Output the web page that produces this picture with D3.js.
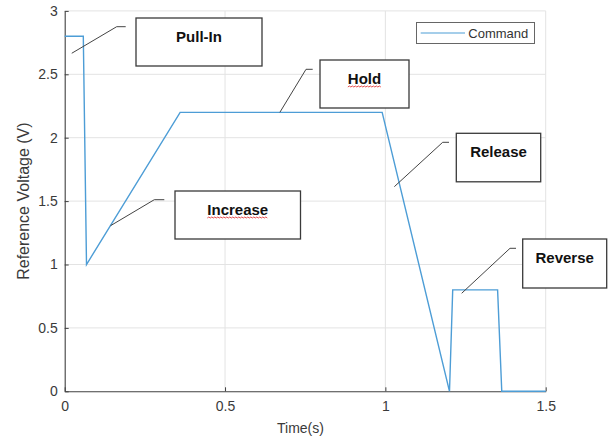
<!DOCTYPE html>
<html>
<head>
<meta charset="utf-8">
<script src="https://cdn.jsdelivr.net/npm/d3@7"></script>
<style>
  html, body { margin: 0; padding: 0; background: #fff; }
  svg { display: block; font-family: "Liberation Sans", Arial, Helvetica, sans-serif; }
</style>
</head>
<body>
<svg id="chart" width="613" height="441"></svg>
<script>
// Reference voltage command profile
const timeS    = [0, 0.058, 0.068, 0.36, 0.99, 1.2, 1.21, 1.35, 1.363, 1.5];
const voltageV = [2.8, 2.8, 1.0, 2.2, 2.2, 0, 0.8, 0.8, 0, 0];

const xTicks = [0, 0.5, 1, 1.5];
const xTickLabels = ["0", "0.5", "1", "1.5"];
const yTicks = [0, 0.5, 1, 1.5, 2, 2.5, 3];
const yTickLabels = ["0", "0.5", "1", "1.5", "2", "2.5", "3"];

const seriesName = "Command";

// Phase labels and the point (time, voltage) each callout line points to
const phaseLabels = ["Pull-In", "Hold", "Release", "Increase", "Reverse"];
const phaseTipTime = [0.022, 0.671, 1.028, 0.143, 1.238];
const phaseTipVolt = [2.666, 2.2, 1.614, 1.306, 0.773];

// Callout geometry (pixels): elbow point, end of the short leader, box rectangle
const calloutLayout = [
  { elbow: [116.7, 26.7], end: 125.7, box: [136, 18, 126, 48], squiggle: false },
  { elbow: [306, 69.3],   end: 312.7, box: [320, 60, 89, 48],  squiggle: true },
  { elbow: [442.7, 142.3],end: 449,   box: [456.3, 133.3, 84.4, 48.5], squiggle: false },
  { elbow: [154.3, 199.7],end: 164.3, box: [175, 191, 125.5, 48], squiggle: true },
  { elbow: [510, 248.3],  end: 516,   box: [522.7, 239, 84, 49], squiggle: false }
];

const svg = d3.select("#chart");
const x = d3.scaleLinear().domain([0, 1.5]).range([64.7, 545.7]);
const y = d3.scaleLinear().domain([0, 3]).range([391.3, 10.9]);

const gridColor = "#e3e3e3";
const axisColor = "#404040";
const textColor = "#3a3a3a";

// Grid lines
const grid = svg.append("g");
grid.selectAll("line.gx").data(xTicks.filter(d => d > 0)).join("line")
  .attr("x1", d => x(d)).attr("x2", d => x(d))
  .attr("y1", y(0)).attr("y2", y(3))
  .attr("stroke", gridColor).attr("stroke-width", 1);
grid.selectAll("line.gy").data(yTicks.filter(d => d > 0)).join("line")
  .attr("x1", x(0)).attr("x2", x(1.5))
  .attr("y1", d => y(d)).attr("y2", d => y(d))
  .attr("stroke", gridColor).attr("stroke-width", 1);

// Axes
const xAxis = d3.axisBottom(x).tickValues(xTicks)
  .tickFormat((d, i) => xTickLabels[i]).tickSizeInner(-4).tickSizeOuter(0).tickPadding(10);
const yAxis = d3.axisLeft(y).tickValues(yTicks)
  .tickFormat((d, i) => yTickLabels[i]).tickSizeInner(-4).tickSizeOuter(0).tickPadding(7);

const gx = svg.append("g").attr("transform", `translate(0,${y(0)})`).call(xAxis);
const gy = svg.append("g").attr("transform", `translate(${x(0)},0)`).call(yAxis);
[gx, gy].forEach(g => {
  g.select(".domain").attr("stroke", axisColor).attr("stroke-width", 1.1);
  g.selectAll(".tick line").attr("stroke", axisColor);
  g.selectAll(".tick text").attr("fill", textColor)
    .style("font-size", "14px").style("font-family", '"Liberation Sans", Arial, sans-serif');
});

// Axis titles
svg.append("text")
  .attr("x", 300.5).attr("y", 433)
  .attr("text-anchor", "middle")
  .attr("fill", textColor).style("font-size", "14px")
  .text("Time(s)");
svg.append("text")
  .attr("transform", `translate(29,${(y(0) + y(3)) / 2}) rotate(-90)`)
  .attr("text-anchor", "middle")
  .attr("fill", textColor).style("font-size", "16px")
  .text("Reference Voltage (V)");

// Command line
const pts = timeS.map((t, i) => [t, voltageV[i]]);
svg.append("path")
  .datum(pts)
  .attr("fill", "none")
  .attr("stroke", "#4d9dd6")
  .attr("stroke-width", 1.4)
  .attr("stroke-linejoin", "miter")
  .attr("d", d3.line().x(d => x(d[0])).y(d => y(d[1])));

// Legend
const leg = svg.append("g");
leg.append("rect").attr("x", 416.5).attr("y", 22.5).attr("width", 118).attr("height", 21)
  .attr("fill", "#fff").attr("stroke", "#666").attr("stroke-width", 1);
leg.append("line").attr("x1", 420.7).attr("x2", 465).attr("y1", 33).attr("y2", 33)
  .attr("stroke", "#4d9dd6").attr("stroke-width", 1.2);
leg.append("text").attr("x", 468.3).attr("y", 38)
  .attr("fill", "#333").style("font-size", "13px").text(seriesName);

// Callouts
const callouts = svg.append("g");
phaseLabels.forEach((label, i) => {
  const L = calloutLayout[i];
  const tip = [x(phaseTipTime[i]), y(phaseTipVolt[i])];
  callouts.append("path")
    .attr("d", `M${tip[0]},${tip[1]}L${L.elbow[0]},${L.elbow[1]}L${L.end},${L.elbow[1]}`)
    .attr("fill", "none").attr("stroke", "#444").attr("stroke-width", 1);
  const [bx, by, bw, bh] = L.box;
  callouts.append("rect")
    .attr("x", bx).attr("y", by).attr("width", bw).attr("height", bh)
    .attr("fill", "#fff").attr("stroke", "#3a3a3a").attr("stroke-width", 1.3);
  const cx = bx + bw / 2;
  const t = callouts.append("text")
    .attr("x", cx).attr("y", by + 24)
    .attr("text-anchor", "middle")
    .attr("fill", "#111")
    .style("font-size", "15px").style("font-weight", "bold")
    .text(label);
  if (L.squiggle) {
    // red wavy spell-check underline
    const w = t.node().getComputedTextLength();
    const x0 = cx - w / 2, x1 = cx + w / 2, yy = by + 27;
    let d = `M${x0},${yy}`;
    let up = true;
    for (let xx = x0 + 1.5; xx <= x1; xx += 1.5) {
      d += `L${xx},${up ? yy - 1 : yy}`;
      up = !up;
    }
    callouts.append("path").attr("d", d)
      .attr("fill", "none").attr("stroke", "#e23a3a").attr("stroke-width", 0.9);
  }
});
</script>
</body>
</html>
